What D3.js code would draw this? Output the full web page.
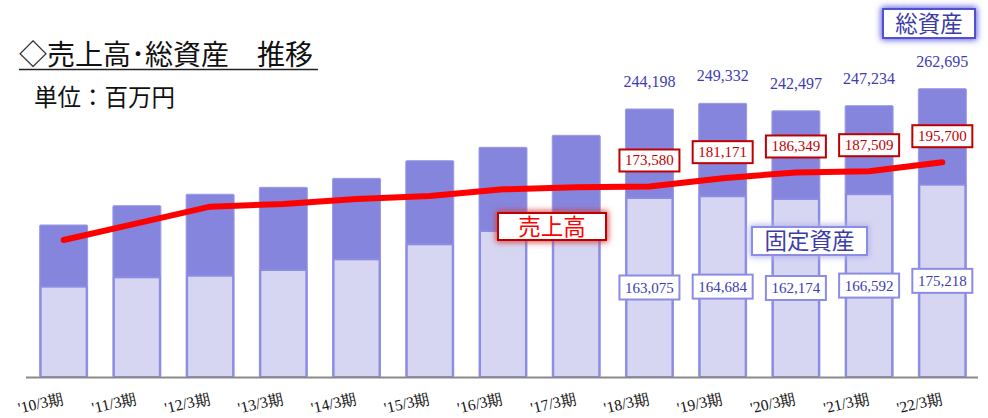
<!DOCTYPE html>
<html>
<head>
<meta charset="utf-8">
<script src="https://cdn.jsdelivr.net/npm/d3@7"></script>
<style>
  body { margin: 0; background: #fff; }
  svg { display: block; }
</style>
</head>
<body>
<script>
// data
var periods = ["'10/3期", "'11/3期", "'12/3期", "'13/3期", "'14/3期", "'15/3期", "'16/3期",
               "'17/3期", "'18/3期", "'19/3期", "'20/3期", "'21/3期", "'22/3期"];
var totalAssets = [138500, 156100, 166500, 172800, 181000, 197100, 209300, 220200,
                   244198, 249332, 242497, 247234, 262695];
var fixedAssets = [82300, 90800, 92300, 97500, 107200, 120900, 133000, 137000,
                   163075, 164684, 162174, 166592, 175218];
var sales = [124800, 140000, 155200, 157600, 162200, 164900, 171000, 172800,
             173580, 181171, 186349, 187509, 195700];
var labelFrom = 8; // values printed from '18/3期 on

var w = 988, h = 418;
var fmt = d3.format(",");
var jp = "'Noto Sans CJK JP', 'Noto Sans', sans-serif";
var serif = "'Liberation Serif', 'DejaVu Serif', serif";

var svg = d3.select("body").append("svg")
    .attr("width", w)
    .attr("height", h);

var defs = svg.append("defs");
[["glowRed", 3], ["glowBlue", 3]].forEach(function (f) {
    defs.append("filter").attr("id", f[0])
        .attr("x", "-30%").attr("y", "-50%").attr("width", "160%").attr("height", "200%")
        .append("feGaussianBlur").attr("stdDeviation", f[1]);
});

// scales
var x = d3.scaleBand()
    .domain(periods)
    .range([26.5, 979.5])
    .paddingInner(0.345)
    .paddingOuter(0.18);
var y = d3.scaleLinear()
    .domain([0, 343500])
    .range([377, 0]);

// bars: total assets (dark) + fixed assets (light)
var bars = svg.append("g");
bars.selectAll(".total")
    .data(periods)
    .enter().append("rect")
    .attr("class", "total")
    .attr("x", function (d) { return x(d); })
    .attr("y", function (d, i) { return y(totalAssets[i]); })
    .attr("width", x.bandwidth())
    .attr("height", function (d, i) { return y(0) - y(totalAssets[i]); })
    .attr("rx", 1)
    .style("fill", "#8585de")
    .style("stroke", "#9a9ae6")
    .style("stroke-width", 1);

bars.selectAll(".fixed")
    .data(periods)
    .enter().append("rect")
    .attr("class", "fixed")
    .attr("x", function (d) { return x(d) + 1; })
    .attr("y", function (d, i) { return y(fixedAssets[i]); })
    .attr("width", x.bandwidth() - 2)
    .attr("height", function (d, i) { return y(0) - y(fixedAssets[i]); })
    .style("fill", "#d6d6f3")
    .style("stroke", "#8c8ce4")
    .style("stroke-width", 2);

// axis line
svg.append("line")
    .attr("x1", 26).attr("x2", 978)
    .attr("y1", 377.5).attr("y2", 377.5)
    .style("stroke", "#8a8a8a")
    .style("stroke-width", 2);

// x labels (tilted)
svg.append("g").selectAll("text")
    .data(periods)
    .enter().append("text")
    .attr("transform", function (d) {
        return "translate(" + (x(d) + x.bandwidth() / 2 + 1) + ",403) rotate(-13)";
    })
    .attr("text-anchor", "end")
    .style("font-family", serif)
    .style("font-size", "15.5px")
    .style("fill", "#111")
    .text(function (d) { return d; });

// sales line
var line = d3.line()
    .x(function (d, i) { return x(periods[i]) + x.bandwidth() / 2; })
    .y(function (d) { return y(d); });
svg.append("path")
    .datum(sales)
    .attr("d", line)
    .style("fill", "none")
    .style("stroke", "#ff0000")
    .style("stroke-width", 6)
    .style("stroke-linecap", "round")
    .style("stroke-linejoin", "round");

// value labels
function boxLabel(g, cx, cy, bw, bh, txt, stroke, color) {
    g.append("rect")
        .attr("x", cx - bw / 2).attr("y", cy - bh / 2)
        .attr("width", bw).attr("height", bh)
        .style("fill", "#fff")
        .style("stroke", stroke)
        .style("stroke-width", 2);
    g.append("text")
        .attr("x", cx).attr("y", cy + 5)
        .attr("text-anchor", "middle")
        .style("font-family", serif)
        .style("font-size", "15px")
        .style("fill", color)
        .text(txt);
}

var vl = svg.append("g");
periods.forEach(function (p, i) {
    if (i < labelFrom) return;
    var cx = x(p) + x.bandwidth() / 2;
    // total assets above bar
    vl.append("text")
        .attr("x", cx).attr("y", y(totalAssets[i]) - 22)
        .attr("text-anchor", "middle")
        .style("font-family", serif)
        .style("font-size", "16px")
        .style("fill", "#3c3cb4")
        .text(fmt(totalAssets[i]));
    // sales box above the line
    boxLabel(vl, cx, y(sales[i]) - 26, 60, 22, fmt(sales[i]), "#c00000", "#c00000");
    // fixed assets box in the middle of the light bar
    boxLabel(vl, cx, (y(fixedAssets[i]) + y(0)) / 2, 60, 24, fmt(fixedAssets[i]), "#8c8ce4", "#3c3cb4");
});

// legend boxes with glow
function legendBox(x0, y0, bw, bh, txt, stroke, color, glow, filt) {
    var g = svg.append("g");
    g.append("rect")
        .attr("x", x0 - 2).attr("y", y0 - 2)
        .attr("width", bw + 4).attr("height", bh + 4)
        .style("fill", glow)
        .attr("filter", "url(#" + filt + ")");
    g.append("rect")
        .attr("x", x0).attr("y", y0)
        .attr("width", bw).attr("height", bh)
        .style("fill", "#fff")
        .style("stroke", stroke)
        .style("stroke-width", 2);
    g.append("text")
        .attr("x", x0 + bw / 2).attr("y", y0 + bh / 2 + 8)
        .attr("text-anchor", "middle")
        .style("font-family", jp)
        .style("font-size", "22.5px")
        .style("fill", color)
        .text(txt);
}
legendBox(498, 213, 108, 27, "売上高", "#c00000", "#ff0000", "#d04040", "glowRed");
legendBox(752, 227, 115, 28, "固定資産", "#8c8ce4", "#3c3ca8", "#b0b0e8", "glowBlue");
legendBox(883, 9, 92, 29, "総資産", "#5050d0", "#3c3ca8", "#5a5ae0", "glowBlue");

// title
svg.append("text")
    .attr("x", 19).attr("y", 65)
    .style("font-family", jp)
    .style("font-size", "28px")
    .style("fill", "#111")
    .text("◇売上高･総資産　推移");
svg.append("line")
    .attr("x1", 19).attr("x2", 318)
    .attr("y1", 69.5).attr("y2", 69.5)
    .style("stroke", "#222")
    .style("stroke-width", 1.5);
svg.append("text")
    .attr("x", 34).attr("y", 106)
    .style("font-family", jp)
    .style("font-size", "23.5px")
    .style("fill", "#111")
    .text("単位：百万円");
</script>
</body>
</html>
